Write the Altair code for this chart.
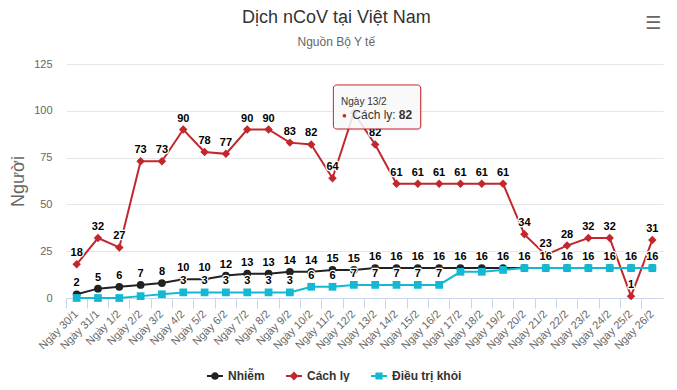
import altair as alt
import pandas as pd

# ---------------- data ----------------
dates = ["Ngày 30/1", "Ngày 31/1", "Ngày 1/2", "Ngày 2/2", "Ngày 3/2", "Ngày 4/2",
         "Ngày 5/2", "Ngày 6/2", "Ngày 7/2", "Ngày 8/2", "Ngày 9/2", "Ngày 10/2",
         "Ngày 11/2", "Ngày 12/2", "Ngày 13/2", "Ngày 14/2", "Ngày 15/2", "Ngày 16/2",
         "Ngày 17/2", "Ngày 18/2", "Ngày 19/2", "Ngày 20/2", "Ngày 21/2", "Ngày 22/2",
         "Ngày 23/2", "Ngày 24/2", "Ngày 25/2", "Ngày 26/2"]
nhiem = [2, 5, 6, 7, 8, 10, 10, 12, 13, 13, 14, 14, 15, 15, 16, 16, 16, 16,
         16, 16, 16, 16, 16, 16, 16, 16, 16, 16]
cach_ly = [18, 32, 27, 73, 73, 90, 78, 77, 90, 90, 83, 82, 64, 99, 82, 61, 61, 61,
           61, 61, 61, 34, 23, 28, 32, 32, 1, 31]
dieu_tri = [0, 0, 0, 1, 2, 3, 3, 3, 3, 3, 3, 6, 6, 7, 7, 7, 7, 7,
            14, 14, 15, 16, 16, 16, 16, 16, 16, 16]
series_names = ["Nhiễm", "Cách ly", "Điều trị khỏi"]
y_ticks = [0, 25, 50, 75, 100, 125]

chart_title = "Dịch nCoV tại Việt Nam"
chart_subtitle = "Nguồn Bộ Y tế"
y_title = "Người"

tooltip_anchor = "Ngày 12/2"
tooltip_header = "Ngày 13/2"
tooltip_label = "Cách ly: "
tooltip_value = "82"

# ---------------- styles ----------------
FONT = "Liberation Sans"
series_colors = ["#222222", "#c1272d", "#13b9d3"]
marker_shapes = ["circle", "diamond", "square"]
marker_sizes = [60, 72, 60]
legend_shapes = [
    "M-1,-0.125H1V0.125H-1Z M0,-0.48A0.48,0.48 0 1,1 0,0.48A0.48,0.48 0 1,1 0,-0.48Z",
    "M-1,-0.125H1V0.125H-1Z M0,-0.55L0.55,0L0,0.55L-0.55,0Z",
    "M-1,-0.125H1V0.125H-1Z M-0.45,-0.45H0.45V0.45H-0.45Z",
]
BOX = ("M-0.93,-0.504H0.93A0.07,0.07 0 0 1 1,-0.434V0.434A0.07,0.07 0 0 1 0.93,0.504"
       "H-0.93A0.07,0.07 0 0 1 -1,0.434V-0.434A0.07,0.07 0 0 1 -0.93,-0.504Z")

rows = []
for name, vals in zip(series_names, [nhiem, cach_ly, dieu_tri]):
    for i, (d, v) in enumerate(zip(dates, vals)):
        rows.append({"date": d, "series": name, "value": v,
                     "gap": nhiem[i] - dieu_tri[i]})
df = pd.DataFrame(rows)

x_scale = alt.Scale(type="band", domain=dates, paddingInner=0, paddingOuter=0)
y_scale = alt.Scale(domain=[0, 125], nice=False, zero=True)

y_axis = alt.Axis(values=y_ticks, labelFont=FONT, labelFontSize=11, labelColor="#666666",
                  labelPadding=14, ticks=False, tickSize=0, domain=False, grid=True,
                  gridColor="#e6e6e6", gridWidth=1, titleFont=FONT, titleFontSize=18,
                  titleFontWeight="normal", titleColor="#666666", titlePadding=6)


def xenc(axis=None):
    return alt.X("date:N", scale=x_scale, axis=axis, title=None)


def yenc():
    return alt.Y("value:Q", scale=y_scale, axis=y_axis, title=y_title)


x_label_axis = alt.Axis(orient="bottom", labelAngle=-45, labelAlign="right",
                        labelBaseline="middle", labelFont=FONT, labelFontSize=11,
                        labelColor="#666666", labelPadding=14, labelOverlap=False,
                        ticks=False, tickSize=0, domain=True, domainColor="#ccd6eb",
                        domainWidth=1, grid=False, title=None)
x_tick_axis = alt.Axis(orient="bottom", labels=False, ticks=True, tickSize=10,
                       tickColor="#ccd6eb", tickWidth=1, bandPosition=0,
                       domain=False, grid=False, title=None)

layers = []
for i, (name, color, shape, size) in enumerate(zip(series_names, series_colors,
                                                   marker_shapes, marker_sizes)):
    base = alt.Chart(df).transform_filter(alt.datum.series == name)
    xa = x_label_axis if i == 0 else (x_tick_axis if i == 1 else None)
    line = base.mark_line(color=color, strokeWidth=2).encode(x=xenc(xa), y=yenc())
    pts = base.mark_point(shape=shape, filled=True, size=size, color=color,
                          opacity=1, strokeWidth=0).encode(x=xenc(), y=yenc())
    layers += [line, pts]

# data labels (the one under the tooltip is hidden, as in the original)
lab_base = alt.Chart(df).transform_filter(
    "datum.series != 'Điều trị khỏi' || datum.gap >= 7").transform_filter(
    f"!(datum.series == 'Cách ly' && datum.date == '{tooltip_anchor}')")
halo = lab_base.mark_text(font=FONT, fontSize=11, fontWeight="bold", dy=-11,
                          baseline="middle", align="center", fill="white",
                          stroke="white", strokeWidth=2.5, strokeJoin="round").encode(
    x=xenc(), y=yenc(), text="value:Q")
txt = lab_base.mark_text(font=FONT, fontSize=11, fontWeight="bold", dy=-11,
                         baseline="middle", align="center", color="#000000").encode(
    x=xenc(), y=yenc(), text="value:Q")
layers += [halo, txt]

# tooltip, anchored to the point of the anchor date
tip_df = pd.DataFrame({"date": [tooltip_anchor],
                       "value": [cach_ly[dates.index(tooltip_anchor)]],
                       "header": [tooltip_header], "label": [tooltip_label],
                       "num": [tooltip_value], "bullet": ["●"]})
tip = alt.Chart(tip_df).encode(x=xenc(), y=yenc())
layers += [
    tip.mark_point(shape=BOX, size=7621, filled=True, fill="#000000", opacity=0.07,
                   strokeWidth=0, xOffset=24.7, yOffset=-4.2),
    tip.mark_point(shape=BOX, size=7621, filled=True, fill="#fafafa", fillOpacity=0.88,
                   stroke=series_colors[1], strokeWidth=1, strokeOpacity=1, opacity=1,
                   xOffset=23.2, yOffset=-5.7),
    tip.mark_text(font=FONT, fontSize=10, color="#333333", align="left",
                  baseline="alphabetic", dx=-12.8, dy=-7.7).encode(text="header:N"),
    tip.mark_text(font=FONT, fontSize=8, color=series_colors[1], align="center",
                  baseline="middle", dx=-9.5, dy=3.3).encode(text="bullet:N"),
    tip.mark_text(font=FONT, fontSize=12, color="#333333", align="left",
                  baseline="alphabetic", dx=-1.5, dy=6.6).encode(text="label:N"),
    tip.mark_text(font=FONT, fontSize=12, fontWeight="bold", color="#333333", align="left",
                  baseline="alphabetic", dx=44.9, dy=6.6).encode(text="num:N"),
]

# export menu icon
menu = alt.Chart(pd.DataFrame({"icon": ["☰"]})).mark_text(
    font="DejaVu Sans", fontSize=18, color="#666666", align="center", baseline="middle"
).encode(x=alt.value(587), y=alt.value(-40.5), text="icon:N")
layers.append(menu)

# legend (drawn from the color/shape scales)
legend = alt.Legend(title=None, orient="none", legendX=141, legendY=304,
                    direction="horizontal", labelFont=FONT, labelFontSize=12,
                    labelFontWeight="bold", labelColor="#333333", symbolSize=256,
                    symbolStrokeWidth=0, symbolOpacity=1, labelOffset=5,
                    columnPadding=21, padding=0)
legend_layer = alt.Chart(df).transform_filter("false").mark_point(
    filled=True, opacity=1).encode(
    color=alt.Color("series:N", scale=alt.Scale(domain=series_names, range=series_colors),
                    legend=legend),
    shape=alt.Shape("series:N", scale=alt.Scale(domain=series_names, range=legend_shapes),
                    legend=legend),
)
layers.append(legend_layer)

chart = alt.layer(*layers).resolve_axis(x="independent").properties(
    width=597, height=234,
    title=alt.TitleParams(text=chart_title, subtitle=chart_subtitle, anchor="middle",
                          frame="bounds", font=FONT, fontSize=18, fontWeight="normal",
                          color="#333333", subtitleFont=FONT, subtitleFontSize=12,
                          subtitleColor="#666666", subtitlePadding=10, offset=-33),
    autosize=alt.AutoSizeParams(type="none"),
    padding={"left": 58, "top": 56, "right": 6, "bottom": 84},
    background="white",
).configure_view(stroke=None)

chart.save("out.html", embed_options={"renderer": "svg", "actions": False})
